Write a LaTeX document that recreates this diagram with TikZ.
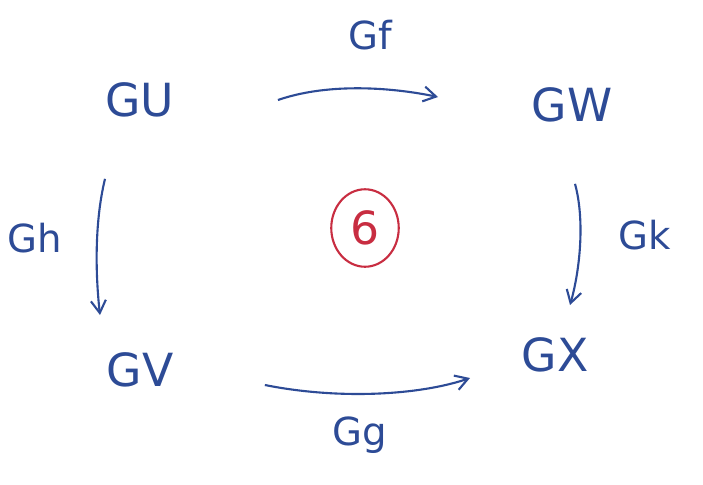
\documentclass[tikz,border=0pt]{standalone}
\usepackage{fontspec}
\usetikzlibrary{arrows.meta, shapes.geometric}
\setmainfont{DejaVu Sans}
\definecolor{ink}{RGB}{45,75,150}
\definecolor{redink}{RGB}{200,45,65}
\begin{document}
\begin{tikzpicture}[x=0.02cm, y=-0.02cm, thick, ink,
    obj/.style={font=\fontsize{26}{28}\selectfont, text=ink},
    lbl/.style={font=\fontsize{22}{24}\selectfont, text=ink},
    arr/.style={-{Straight Barb[length=2.5mm, width=3mm]}, line width=1.2pt, draw=ink}]
    \useasboundingbox (0,0) rectangle (703,484);
    \node[obj] (gu) at (140,100) {GU};
    \node[obj] (gw) at (572,105) {GW};
    \node[obj] (gv) at (140,370) {GV};
    \node[obj] (gx) at (555,355) {GX};

    \node[lbl] (gf) at (370,35) {Gf};
    \node[lbl] (gh) at (35,238) {Gh};
    \node[lbl] (gk) at (645,235) {Gk};
    \node[lbl] (gg) at (360,435) {Gg};

    \node[ellipse, draw=redink, line width=1.2pt, minimum width=1.35cm, minimum height=1.55cm,
        inner sep=0pt, font=\fontsize{26}{28}\selectfont, text=redink] (six) at (365,228) {6};

    \draw[arr] (gu.east) ++(97,0) .. controls (330,82) and (395,88) .. (438,97);
    \draw[arr] (gu.south) ++(-35,55) .. controls (95,220) and (95,270) .. (100,315);
    \draw[arr] (gw.south) ++(3,55) .. controls (585,220) and (580,270) .. (570,305);
    \draw[arr] (gv.east) ++(85,15) .. controls (340,400) and (420,395) .. (470,378);
\end{tikzpicture}
\end{document}
